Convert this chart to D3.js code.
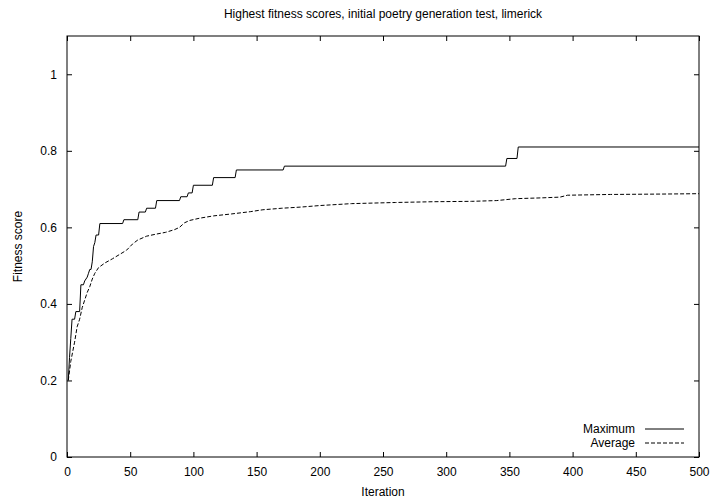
<!DOCTYPE html>
<html>
<head>
<meta charset="utf-8">
<script src="https://cdn.jsdelivr.net/npm/d3@7"></script>
<style>
  html, body { margin: 0; padding: 0; background: #fff; }
  svg { display: block; }
  text { font-family: "Liberation Sans", Arial, Helvetica, sans-serif; fill: #000; }
</style>
</head>
<body>
<svg id="chart" width="713" height="503"></svg>
<script>
// Best fitness per iteration (breakpoints of the run)
const maxIter = [1, 2, 3, 4, 6, 7, 10, 11, 13, 14, 16, 17, 18, 19, 20, 21, 22, 23, 25, 26, 44, 45, 56, 57, 62, 63, 70, 71, 89, 90, 95, 96, 99, 100, 115, 116, 133, 134, 171, 172, 347, 348, 356, 357, 500];
const maxScore = [0.20, 0.26, 0.31, 0.36, 0.36, 0.38, 0.38, 0.45, 0.45, 0.46, 0.47, 0.48, 0.49, 0.49, 0.51, 0.55, 0.56, 0.58, 0.58, 0.61, 0.61, 0.62, 0.62, 0.64, 0.64, 0.65, 0.65, 0.67, 0.67, 0.68, 0.68, 0.69, 0.69, 0.71, 0.71, 0.73, 0.73, 0.75, 0.75, 0.76, 0.76, 0.78, 0.78, 0.81, 0.81];

// Average fitness of the population
const avgIter = [1, 3, 6, 8, 10, 12, 14, 16, 18, 20, 22, 25, 30, 36, 42, 47, 52, 56, 63, 70, 78, 85, 89, 93, 97, 105, 116, 130, 145, 155, 170, 185, 200, 225, 260, 290, 320, 340, 355, 375, 390, 396, 430, 470, 500];
const avgScore = [0.20, 0.25, 0.30, 0.34, 0.36, 0.39, 0.41, 0.43, 0.445, 0.465, 0.48, 0.495, 0.507, 0.518, 0.53, 0.54, 0.557, 0.567, 0.577, 0.582, 0.587, 0.594, 0.60, 0.612, 0.618, 0.624, 0.63, 0.635, 0.641, 0.646, 0.65, 0.653, 0.657, 0.662, 0.665, 0.667, 0.668, 0.67, 0.675, 0.677, 0.679, 0.684, 0.686, 0.687, 0.688];

const xTicks = [0, 50, 100, 150, 200, 250, 300, 350, 400, 450, 500];
const yTicks = [0, 0.2, 0.4, 0.6, 0.8, 1];
const seriesNames = ["Maximum", "Average"];

const W = 713, H = 503;
const margin = { left: 67, right: 14, top: 36, bottom: 46 };
const pw = W - margin.left - margin.right;
const ph = H - margin.top - margin.bottom;

const svg = d3.select("#chart");
const g = svg.append("g").attr("transform", `translate(${margin.left},${margin.top})`);

const x = d3.scaleLinear().domain([0, 500]).range([0, pw]);
const y = d3.scaleLinear().domain([0, 1.1]).range([ph, 0]);

const tickLen = 5;
const tickFmt = d => d3.format("~g")(d);

// Axes with inward ticks, mirrored on top and right
const xBottom = g.append("g").attr("transform", `translate(0,${ph})`)
  .call(d3.axisBottom(x).tickValues(xTicks).tickFormat(tickFmt).tickSizeInner(-tickLen).tickSizeOuter(0).tickPadding(10));
const xTop = g.append("g")
  .call(d3.axisTop(x).tickValues(xTicks).tickFormat("").tickSizeInner(-tickLen).tickSizeOuter(0));
const yLeft = g.append("g")
  .call(d3.axisLeft(y).tickValues(yTicks).tickFormat(tickFmt).tickSizeInner(-tickLen).tickSizeOuter(0).tickPadding(10));
const yRight = g.append("g").attr("transform", `translate(${pw},0)`)
  .call(d3.axisRight(y).tickValues(yTicks).tickFormat("").tickSizeInner(-tickLen).tickSizeOuter(0));

[xBottom, xTop, yLeft, yRight].forEach(a => {
  a.select(".domain").remove();
  a.selectAll("line").attr("stroke", "#000").attr("stroke-width", 1);
  a.selectAll("text").style("font-size", "12px").attr("fill", "#000");
});

// Plot border
g.append("rect")
  .attr("x", 0).attr("y", 0).attr("width", pw).attr("height", ph)
  .attr("fill", "none").attr("stroke", "#000").attr("stroke-width", 1);

const line = d3.line().x(d => x(d[0])).y(d => y(d[1]));
const maxData = maxIter.map((it, i) => [it, maxScore[i]]);
const avgData = avgIter.map((it, i) => [it, avgScore[i]]);

g.append("path").datum(maxData)
  .attr("d", line).attr("fill", "none").attr("stroke", "#000").attr("stroke-width", 1);
g.append("path").datum(avgData)
  .attr("d", line).attr("fill", "none").attr("stroke", "#000").attr("stroke-width", 1)
  .attr("stroke-dasharray", "4,2");

// Legend
const legend = g.append("g").attr("transform", `translate(${pw - 54},${ph - 28})`);
seriesNames.forEach((name, i) => {
  const row = legend.append("g").attr("transform", `translate(0,${i * 14})`);
  row.append("text").attr("x", -10).attr("y", 4).attr("text-anchor", "end")
    .style("font-size", "12px").text(name);
  row.append("line").attr("x1", 0).attr("x2", 39).attr("y1", 0).attr("y2", 0)
    .attr("stroke", "#000").attr("stroke-width", 1)
    .attr("stroke-dasharray", i === 1 ? "4,2" : null);
});

// Title and axis labels
svg.append("text").attr("x", margin.left + pw / 2).attr("y", 18).attr("text-anchor", "middle")
  .style("font-size", "12px").text("Highest fitness scores, initial poetry generation test, limerick");
svg.append("text").attr("x", margin.left + pw / 2).attr("y", 496).attr("text-anchor", "middle")
  .style("font-size", "12px").text("Iteration");
svg.append("text").attr("transform", `translate(22,${margin.top + ph / 2}) rotate(-90)`)
  .attr("text-anchor", "middle").style("font-size", "12px").text("Fitness score");
</script>
</body>
</html>
